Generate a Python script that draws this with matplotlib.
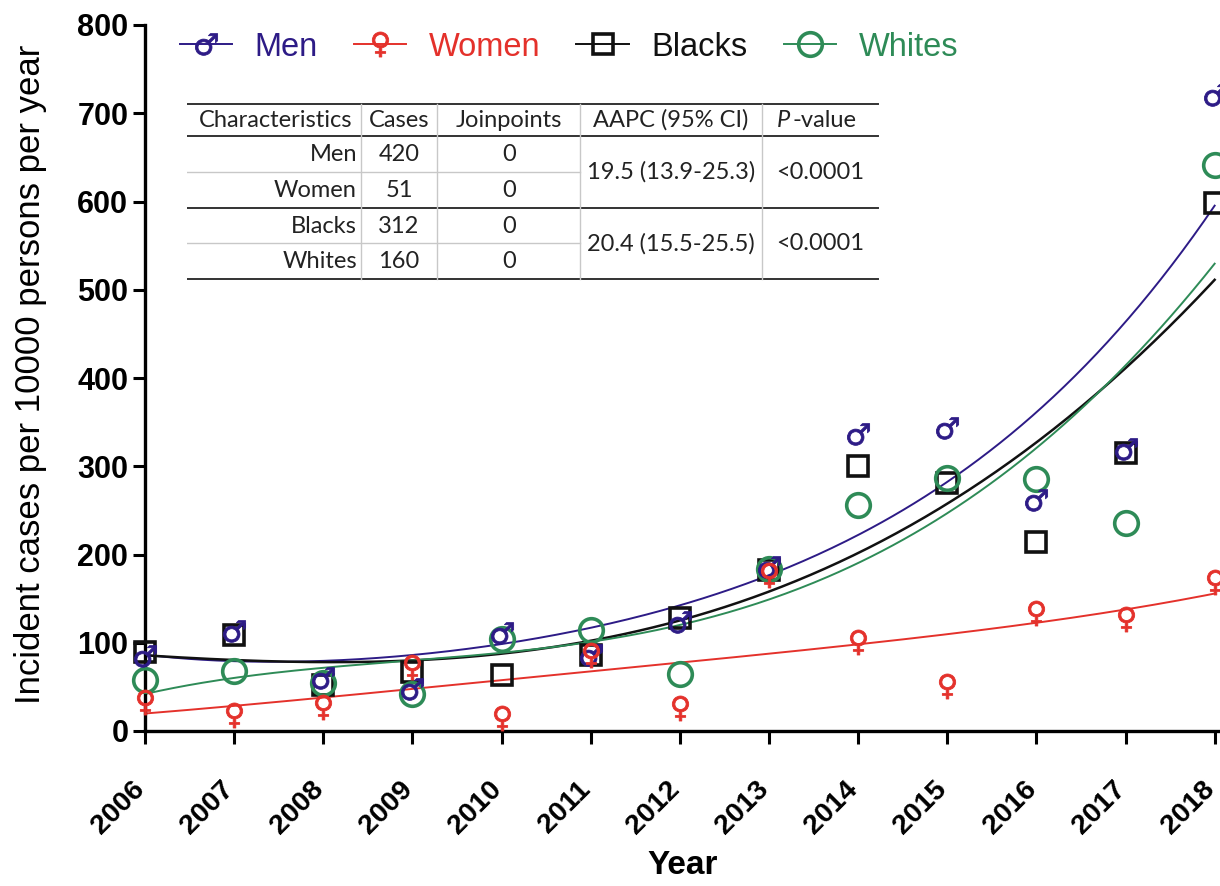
import numpy as np
import matplotlib.pyplot as plt
from matplotlib.lines import Line2D
from matplotlib.transforms import ScaledTranslation

years = np.arange(2006, 2019)

# incidence per 10000 persons per year
men = [85, 113, 60, 48, 111, 86, 124, 186, 336, 343, 262, 320, 721]
women = [33, 18, 27, 73, 15, 86, 26, 177, 101, 51, 134, 127, 169]
blacks = [90, 109, 52, 67, 63, 86, 128, 182, 300, 281, 214, 315, 598]
whites = [58, 68, 54, 42, 104, 114, 65, 184, 256, 287, 286, 236, 641]

# trend curves
men_trend = [86, 80, 79, 86, 99, 117, 140, 178, 225, 280, 360, 465, 595]
women_trend = [20, 28, 38, 48, 58, 67, 77, 88, 98, 110, 123, 137, 156]
blacks_trend = [86, 80, 78, 80, 88, 103, 124, 158, 202, 258, 326, 412, 511]
whites_trend = [42, 60, 71, 81, 90, 100, 117, 150, 193, 247, 319, 414, 530]

# summary table
tbl_header = ['Characteristics', 'Cases', 'Joinpoints', 'AAPC (95% CI)', '-value']
tbl_groups = ['Men', 'Women', 'Blacks', 'Whites']
tbl_cases = ['420', '51', '312', '160']
tbl_joinpoints = ['0', '0', '0', '0']
tbl_aapc = ['19.5 (13.9-25.3)', '20.4 (15.5-25.5)']
tbl_pvalue = ['<0.0001', '<0.0001']

c_men = '#2d1b86'
c_women = '#e4312b'
c_black = '#111111'
c_white = '#2e8b57'

series = [
    ('Men', men, men_trend, c_men, dict(marker='$\u2642$', ms=16, mew=0.6)),
    ('Women', women, women_trend, c_women, dict(marker='$\u2640$', ms=18, mew=0.6)),
    ('Blacks', blacks, blacks_trend, c_black, dict(marker='s', ms=15, mew=2.6, mfc='none')),
    ('Whites', whites, whites_trend, c_white, dict(marker='o', ms=17, mew=2.6, mfc='none')),
]

fig = plt.figure(figsize=(12.2, 8.86), dpi=100)
ax = fig.add_axes([145 / 1220, 1 - 731 / 886, 1 - 145 / 1220, 706 / 886])

xs = np.linspace(2006, 2018, 300)
draw_order = {'Blacks': 3, 'Whites': 4, 'Men': 5, 'Women': 6}
handles = []
for name, vals, trend, col, mk in series:
    coef = np.polyfit(years - 2006, trend, 4)
    lw = 1.8 if name == 'Blacks' else 1.4
    ax.plot(xs, np.polyval(coef, xs - 2006), color=col, lw=lw, zorder=2)
    ax.plot(years, vals, ls='none', color=col, mec=col, zorder=draw_order[name],
            clip_on=False, **mk)
    handles.append(Line2D([], [], color=col, lw=1.4, mec=col, label=name, **mk))

ax.set_xlim(2006, 2018.06)
ax.set_ylim(0, 800)
ax.set_xticks(years)
ax.set_yticks(range(0, 801, 100))
for s in ['top', 'right']:
    ax.spines[s].set_visible(False)
for s in ['left', 'bottom']:
    ax.spines[s].set_linewidth(2.4)
ax.tick_params(axis='both', width=2.2, length=9, direction='out')
ax.tick_params(axis='y', pad=3)
ax.tick_params(axis='x', pad=30)
ax.set_yticklabels([str(v) for v in range(0, 801, 100)],
                   fontsize=22, fontweight='bold', family='Liberation Sans')
ax.set_xticklabels([str(y) for y in years], rotation=45, ha='right', va='center',
                   rotation_mode='anchor', fontsize=20.5, fontweight='bold',
                   family='Liberation Sans')
shift = ScaledTranslation(-4 / 100, 0, fig.dpi_scale_trans)
for lbl in ax.get_xticklabels():
    lbl.set_transform(lbl.get_transform() + shift)
ax.set_xlabel('Year', fontsize=24, fontweight='bold', family='Liberation Sans', labelpad=8)
ax.set_ylabel('Incident cases per 10000 persons per year', fontsize=25,
              family='Liberation Sans', labelpad=2)
ax.yaxis.set_label_coords(-0.091, 0.505)

leg = ax.legend(handles=handles, loc='upper left', bbox_to_anchor=(160 / 1220, 1 - 12 / 886),
                bbox_transform=fig.transFigure, ncol=4, frameon=False,
                prop={'family': 'Liberation Sans', 'size': 23.5},
                handlelength=1.6, handletextpad=0.7, columnspacing=1.1,
                labelcolor='linecolor', borderaxespad=0.2)

# inset table, drawn in pixel-like coordinates
tx = fig.add_axes([187 / 1220, 1 - 281 / 886, (880 - 187) / 1220, (281 - 100) / 886])
tx.set_xlim(187, 880)
tx.set_ylim(281, 100)
tx.axis('off')
tx.patch.set_visible(False)

dark = '#333333'
light = '#c8c8c8'
for y in [104, 136, 208, 279]:
    tx.plot([187, 878], [y, y], color=dark, lw=1.4)
for y in [172, 243]:
    tx.plot([187, 580], [y, y], color=light, lw=1.0)
for x in [361, 437, 580, 762]:
    tx.plot([x, x], [104, 279], color=light, lw=1.0)

tfont = dict(family='Lato', fontsize=17, color='#222222', va='center')
hy = 120
tx.text(276, hy, tbl_header[0], ha='center', **tfont)
tx.text(399, hy, tbl_header[1], ha='center', **tfont)
tx.text(509, hy, tbl_header[2], ha='center', **tfont)
tx.text(671, hy, tbl_header[3], ha='center', **tfont)
tx.text(790, hy, 'P', ha='right', style='italic', **tfont)
tx.text(793, hy, tbl_header[4], ha='left', **tfont)

row_y = [154, 190, 226, 262]
for i, yy in enumerate(row_y):
    tx.text(357, yy, tbl_groups[i], ha='right', **tfont)
    tx.text(399, yy, tbl_cases[i], ha='center', **tfont)
    tx.text(509, yy, tbl_joinpoints[i], ha='center', **tfont)
for j, yy in enumerate([172, 244]):
    tx.text(671, yy, tbl_aapc[j], ha='center', **tfont)
    tx.text(820, yy, tbl_pvalue[j], ha='center', **tfont)

fig.savefig('out.png', dpi=100)
